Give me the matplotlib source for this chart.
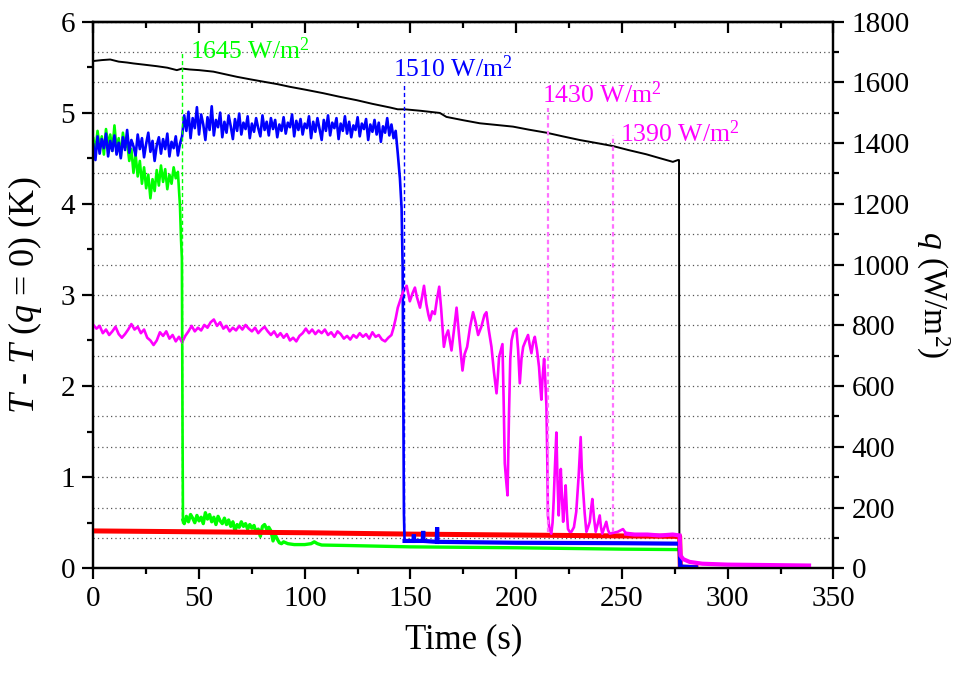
import matplotlib
matplotlib.use('Agg')
import matplotlib.pyplot as plt
from matplotlib.ticker import MultipleLocator
import numpy as np

plt.rcParams['font.family'] = 'Liberation Serif'
plt.rcParams['mathtext.fontset'] = 'custom'
plt.rcParams['mathtext.rm'] = 'Liberation Serif'
plt.rcParams['mathtext.it'] = 'Liberation Serif:italic'

# --- data ---
# blue run (1510 W/m2): 1 s samples up to 143 s, then the drop and the flat tail
blue_t = np.concatenate([np.arange(0, 144),
                         [144, 145, 145.8, 146.3, 146.6, 146.9, 147.2, 151.4, 151.6, 151.8,
                          155.8, 156.0, 156.2, 162.4, 162.6, 162.8, 200, 250, 277.3, 277.6, 285]])
blue_T = [4.65, 4.48, 4.74, 4.55, 4.71, 4.61, 4.77, 4.52, 4.69, 4.58,
          4.75, 4.54, 4.67, 4.50, 4.73, 4.59, 4.81, 4.56, 4.70, 4.63,
          4.53, 4.76, 4.60, 4.72, 4.51, 4.66, 4.78, 4.57, 4.69, 4.47,
          4.64, 4.73, 4.55, 4.71, 4.60, 4.77, 4.52, 4.68, 4.61, 4.74,
          4.53, 4.66,
          4.74, 4.97, 4.80, 5.01, 4.72, 4.94, 4.83, 5.06, 4.76, 4.98,
          4.87, 4.70, 4.95, 4.81, 5.07, 4.75, 4.92, 4.84, 5.00, 4.73,
          4.90, 4.78, 4.97, 4.85, 4.71, 4.93, 4.80, 4.99, 4.76, 4.89,
          4.82, 4.96, 4.72, 4.88, 4.79, 4.94, 4.83, 4.74, 4.97, 4.81,
          4.90, 4.75, 4.94, 4.82, 4.92, 4.73, 4.87, 4.80, 4.95, 4.77,
          4.89, 4.84, 4.98, 4.74, 4.91, 4.81, 4.93, 4.76, 4.88, 4.83,
          4.96, 4.72, 4.90, 4.79, 4.94, 4.82, 4.70, 4.92, 4.80, 4.97,
          4.75, 4.89, 4.83, 4.94, 4.71, 4.88, 4.80, 4.96, 4.77, 4.90,
          4.73, 4.86, 4.81, 4.95, 4.74, 4.88, 4.82, 4.93, 4.70, 4.87,
          4.79, 4.92, 4.76, 4.89, 4.68, 4.85, 4.78, 4.94, 4.75, 4.87,
          4.72, 4.80,
          4.55, 4.28, 3.95, 3.30, 2.00, 0.60, 0.30, 0.30, 0.37, 0.30,
          0.30, 0.41, 0.30, 0.29, 0.45, 0.29, 0.28, 0.275, 0.27, 0.02, 0.01]

# green run (1645 W/m2)
green_t = np.concatenate([np.arange(0, 42), [41.5, 41.9, 42.2, 42.4], np.arange(43, 91),
                          [92, 95, 100, 103, 104.5, 106, 108, 120, 150, 200, 250, 277.3, 277.6, 285]])
green_T = [4.72, 4.57, 4.80, 4.62, 4.74, 4.54, 4.82, 4.64, 4.76, 4.58,
           4.86, 4.60, 4.72, 4.52, 4.78, 4.62, 4.68, 4.47, 4.60, 4.34,
           4.54, 4.30, 4.47, 4.22, 4.40, 4.17, 4.32, 4.06, 4.27, 4.14,
           4.37, 4.20, 4.42, 4.24, 4.38, 4.16, 4.32, 4.22, 4.40, 4.28,
           4.35, 3.97,
           3.60, 3.40, 1.50, 0.53,
           0.49, 0.57, 0.51, 0.59, 0.55, 0.50, 0.58, 0.52, 0.56, 0.49,
           0.61, 0.54, 0.59, 0.51, 0.56, 0.48, 0.57, 0.52, 0.49, 0.55,
           0.48, 0.53, 0.46, 0.51, 0.41, 0.48, 0.45, 0.51, 0.46, 0.49,
           0.43, 0.48, 0.44, 0.47, 0.39, 0.43, 0.35, 0.46, 0.48, 0.43,
           0.45, 0.41, 0.30, 0.37, 0.32, 0.28, 0.27, 0.29,
           0.27, 0.26, 0.26, 0.27, 0.29, 0.27, 0.255, 0.25, 0.235, 0.225, 0.21, 0.205, 0.01, 0.01]

# red run (never dries out)
red_t = [0, 50, 100, 150, 200, 250, 277.3, 277.6, 285]
red_T = [0.41, 0.40, 0.39, 0.375, 0.365, 0.355, 0.35, 0.01, 0.01]

# magenta run (1430 / 1390 W/m2)
magenta_t = np.concatenate([np.arange(0, 142, 1.5),
    [142, 143, 144, 145, 146, 147, 148.2, 149.7, 151, 152.1, 153, 154.5, 155.5, 156.4,
     157.5, 158.5, 159.2, 160.3, 161.5, 162.5, 163.6, 164.5, 165.8, 166.8, 167.8, 168.6,
     169.4, 170.5, 171.8, 173, 174.6, 175.6, 176.8, 178.2, 179.6, 180.8, 182, 183.5, 185,
     185.9, 187, 188.3, 189.5, 190.7, 191.3, 191.9, 193.5, 194.1, 194.6, 195.3, 195.9,
     196.6, 197.2, 197.8, 198.8, 200.1, 200.9, 201.7, 202.5, 203.3, 204.5, 205.6, 206.4,
     207.2, 208, 208.8, 209.8, 210.8, 211.4, 211.9, 212.5, 213.2, 213.8, 214.3, 214.7,
     215, 215.6, 216.6, 217.2, 217.7, 218.3, 219, 219.5, 220.1, 220.6, 221.1, 221.6,
     222.2, 222.8, 223.4, 224, 224.5, 225.3, 226.1, 227.3, 228.4, 229.5, 230.5, 231,
     231.6, 232.4, 233.2, 234, 234.8, 235.4, 236, 236.8, 237.6, 238.5, 239.5, 240.1,
     240.7, 241.6, 242.6, 243.4, 244.2, 246, 248, 250.5, 252, 256, 262, 268, 274, 277.3,
     277.7, 279, 282, 288, 300, 320, 338.5]])
magenta_T = [2.67, 2.63, 2.66, 2.58, 2.62, 2.56, 2.60, 2.65, 2.57, 2.53,
             2.57, 2.62, 2.68, 2.62, 2.65, 2.58, 2.62, 2.53, 2.50, 2.45,
             2.50, 2.59, 2.55, 2.60, 2.52, 2.56, 2.49, 2.54, 2.48, 2.55,
             2.60, 2.66, 2.60, 2.64, 2.61, 2.67, 2.64, 2.70, 2.73, 2.66,
             2.70, 2.63, 2.66, 2.60, 2.64, 2.61, 2.66, 2.62, 2.67, 2.63,
             2.60, 2.64, 2.58, 2.62, 2.65, 2.60, 2.56, 2.60, 2.54, 2.58,
             2.53, 2.57, 2.50, 2.53, 2.49, 2.55, 2.58, 2.63, 2.58, 2.62,
             2.57, 2.61, 2.58, 2.62, 2.56, 2.59, 2.54, 2.60, 2.57, 2.52,
             2.55, 2.51, 2.56, 2.53, 2.58, 2.54, 2.57, 2.52, 2.59, 2.54,
             2.56, 2.51, 2.49, 2.53, 2.56,
             2.64, 2.74, 2.86, 2.93, 3.00, 3.06, 3.10, 2.93, 3.02, 3.08, 2.98, 2.86, 2.98, 3.10,
             2.90, 2.78, 2.72, 2.82, 2.79, 2.95, 3.09, 2.85, 2.43, 2.55, 2.61, 2.50,
             2.39, 2.60, 2.86, 2.55, 2.17, 2.35, 2.43, 2.65, 2.81, 2.70, 2.56, 2.65, 2.78,
             2.81, 2.62, 2.43, 2.15, 1.92, 2.10, 2.32, 2.46, 1.80, 1.15, 0.95, 0.80,
             1.70, 2.30, 2.50, 2.60, 2.63, 2.40, 2.03, 2.30, 2.43, 2.50, 2.56, 2.45,
             2.36, 2.48, 2.54, 2.40, 2.21, 2.00, 1.85, 2.10, 2.30, 2.05, 1.78, 1.20,
             0.58, 0.45, 0.38, 0.50, 0.73, 1.10, 1.49, 1.00, 0.58, 0.85, 1.09, 0.80,
             0.51, 0.70, 0.91, 0.60, 0.43, 0.40, 0.40, 0.45, 0.62, 1.00, 1.44, 1.10,
             0.87, 0.60, 0.40, 0.45, 0.51, 0.65, 0.76, 0.55, 0.40, 0.48, 0.58, 0.45,
             0.38, 0.44, 0.51, 0.42, 0.38, 0.39, 0.40, 0.43, 0.38, 0.37, 0.37, 0.36, 0.37, 0.36,
             0.14, 0.10, 0.07, 0.05, 0.04, 0.035, 0.03]

# heat flux (right axis)
q_t = [0, 4, 8, 12, 16, 19, 24, 30, 35, 39.5, 42, 45.8, 50, 56.8, 62, 67.9, 74, 80.4, 87, 93,
       100, 108.8, 116, 124.6, 132, 140.3, 144, 147.4, 155, 163.9, 167, 175, 182.8, 190,
       198.5, 206, 214.3, 222, 230, 238, 245.8, 253, 261.5, 268, 274.1, 276.5, 277.0, 277.2, 285]
q_W = [1670, 1673, 1675, 1668, 1665, 1662, 1658, 1653, 1648, 1640, 1645, 1642, 1640, 1635,
       1627, 1618, 1610, 1602, 1594, 1585, 1576, 1564, 1553, 1541, 1529, 1517, 1511, 1511,
       1506, 1499, 1486, 1475, 1465, 1460, 1454, 1444, 1434, 1422, 1410, 1400, 1390, 1377,
       1363, 1350, 1338, 1344, 1344, 0, 0]

# dry-out markers
mark_t = [42, 147, 215, 245.8]
mark_label = ['1645 W/m$^2$', '1510 W/m$^2$', '1430 W/m$^2$', '1390 W/m$^2$']
mark_color = ['#00ff00', '#0000ff', '#ff00ff', '#ff00ff']

fig = plt.figure(figsize=(9.58, 6.77), dpi=100)
ax = fig.add_subplot(111)
fig.subplots_adjust(left=0.0974, right=0.8699, bottom=0.1606, top=0.9682)
ax2 = ax.twinx()
ax.set_zorder(ax2.get_zorder() + 1)
ax.patch.set_visible(False)

# right axis: grid + q
ax2.plot(q_t, q_W, color='black', lw=1.4)
ax2.set_ylim(0, 1800)
ax2.yaxis.set_major_locator(MultipleLocator(200))
ax2.yaxis.set_minor_locator(MultipleLocator(100))
ax2.grid(True, which='both', axis='y', color='#555555', linestyle=(0, (1, 2.5)), linewidth=0.9)
ax2.set_ylabel(r'$q$ (W/m$^2$)', fontsize=24, rotation=270, labelpad=30)

# left axis: temperature rise (noisy part thin, settled tail thicker)
def trace(t, T, color, t_split, lw_noisy, lw_flat):
    t = np.asarray(t, dtype=float)
    T = np.asarray(T, dtype=float)
    k = np.searchsorted(t, t_split)
    ax.plot(t[:k + 1], T[:k + 1], color=color, lw=lw_noisy)
    ax.plot(t[k:], T[k:], color=color, lw=lw_flat, solid_joinstyle='miter')

trace(green_t[:46], green_T[:46], '#00ff00', 42.4, 1.9, 1.9)
ax.plot(green_t[45:], green_T[45:], color='#00ff00', lw=2.4)
ax.plot(red_t, red_T, color='#ff0000', lw=3.6)
trace(blue_t, blue_T, '#0000ff', 147.2, 1.9, 3.0)
trace(magenta_t, magenta_T, '#ff00ff', 252, 1.9, 3.0)

# annotation lines + labels
ax.vlines(mark_t[0], 0.5, 5.67, colors=mark_color[0], linestyles=(0, (3, 2)), lw=1.0)
ax.vlines(mark_t[1], 0.3, 5.34, colors=mark_color[1], linestyles=(0, (3, 2)), lw=1.0)
ax.vlines(mark_t[2], 0.4, 5.05, colors='#ff70ff', linestyles=(0, (2, 1.5)), lw=1.6)
ax.vlines(mark_t[3], 0.4, 4.75, colors='#ff70ff', linestyles=(0, (2, 1.5)), lw=1.6)
ax.text(45.8, 5.59, mark_label[0], color=mark_color[0], fontsize=18.5, va='baseline')
ax.text(141.8, 5.39, mark_label[1], color=mark_color[1], fontsize=18.5, va='baseline')
ax.text(212.1, 5.11, mark_label[2], color=mark_color[2], fontsize=18.5, va='baseline')
ax.text(249.2, 4.68, mark_label[3], color=mark_color[3], fontsize=18.5, va='baseline')

ax.set_xlim(0, 350)
ax.set_ylim(0, 6)
ax.xaxis.set_major_locator(MultipleLocator(50))
ax.xaxis.set_minor_locator(MultipleLocator(25))
ax.yaxis.set_major_locator(MultipleLocator(1))
ax.yaxis.set_minor_locator(MultipleLocator(0.5))
ax.set_xlabel('Time (s)', fontsize=25, labelpad=8)
ax.set_ylabel(r'$T$ - $T$ ($q$ = 0) (K)', fontsize=26, labelpad=12)

for a in (ax, ax2):
    for s in a.spines.values():
        s.set_linewidth(1.6)
    a.tick_params(which='major', direction='out', length=8, width=1.6, labelsize=21, pad=5)
    a.tick_params(which='minor', direction='out', length=4.5, width=1.6)

# top ticks point inwards
top = ax.secondary_xaxis('top')
top.xaxis.set_major_locator(MultipleLocator(50))
top.xaxis.set_minor_locator(MultipleLocator(25))
top.tick_params(which='major', direction='in', length=8, width=1.6, labeltop=False)
top.tick_params(which='minor', direction='in', length=4.5, width=1.6)
top.spines['top'].set_linewidth(1.6)

fig.savefig('out.png', dpi=100, facecolor='white')
